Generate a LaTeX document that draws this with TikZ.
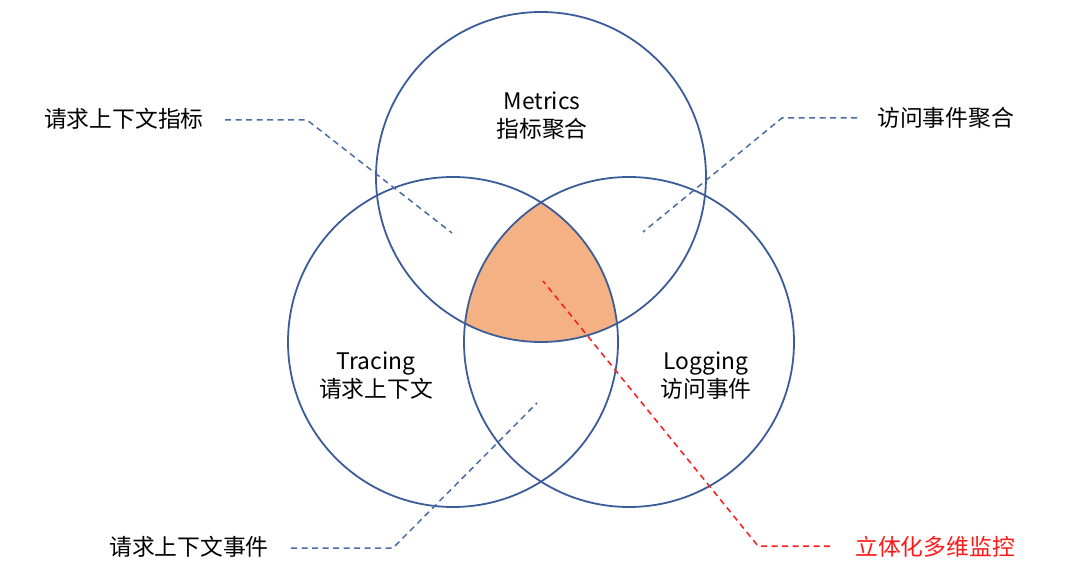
\documentclass[tikz,border=0pt]{standalone}
\usepackage{fontspec}
\setmainfont{Noto Sans CJK SC}
\definecolor{ringblue}{HTML}{3C5C99}
\definecolor{dashblue}{HTML}{4A6BA3}
\definecolor{coreorange}{HTML}{F4B183}
\definecolor{callred}{HTML}{FF1A1A}
\begin{document}
\begin{tikzpicture}[x=1pt,y=-1pt,
  ring/.style={circle,draw=ringblue,line width=1.8pt,minimum size=330pt,inner sep=0pt},
  lbl/.style={font=\fontsize{22.8}{28}\selectfont,text=black,inner sep=0pt,align=center},
  lead/.style={draw=dashblue,line width=1.5pt,dash pattern=on 6pt off 4.5pt},
  redlead/.style={draw=callred,line width=1.5pt,dash pattern=on 6pt off 4.5pt}]
\useasboundingbox (0,0) rectangle (1080,585);
% orange core
\begin{scope}
  \clip (541,177) circle (165pt);
  \clip (453,342) circle (165pt);
  \fill[coreorange] (629,342) circle (165pt);
\end{scope}
% rings
\node[ring] (metrics) at (541,177) {};
\node[ring] (tracing) at (453,342) {};
\node[ring] (logging) at (629,342) {};
% ring texts
\node[lbl] (mt) at (542,116) {Metrics\\指标聚合};
\node[lbl] (tt) at (376,376) {Tracing\\请求上下文};
\node[lbl] (lt) at (706,376) {Logging\\访问事件};
% outer labels
\node[lbl,anchor=east] (l1) at (204,119) {请求上下文指标};
\node[lbl,anchor=west] (l2) at (877,118) {访问事件聚合};
\node[lbl,anchor=east] (l3) at (269,547) {请求上下文事件};
\node[lbl,anchor=west,text=callred] (l4) at (855,547) {立体化多维监控};
% leader points
\coordinate (a1) at (225,120); \coordinate (b1) at (307,120); \coordinate (c1) at (452,233);
\coordinate (a2) at (857,118); \coordinate (b2) at (782,118); \coordinate (c2) at (643,232);
\coordinate (a3) at (291,548); \coordinate (b3) at (393,548); \coordinate (c3) at (537,403);
\coordinate (a4) at (830,546); \coordinate (b4) at (758,546); \coordinate (c4) at (543,281);
\draw[lead] (a1) -- (b1) -- (c1);
\draw[lead] (a2) -- (b2) -- (c2);
\draw[lead] (a3) -- (b3) -- (c3);
\draw[redlead] (a4) -- (b4) -- (c4);
\end{tikzpicture}
\end{document}
